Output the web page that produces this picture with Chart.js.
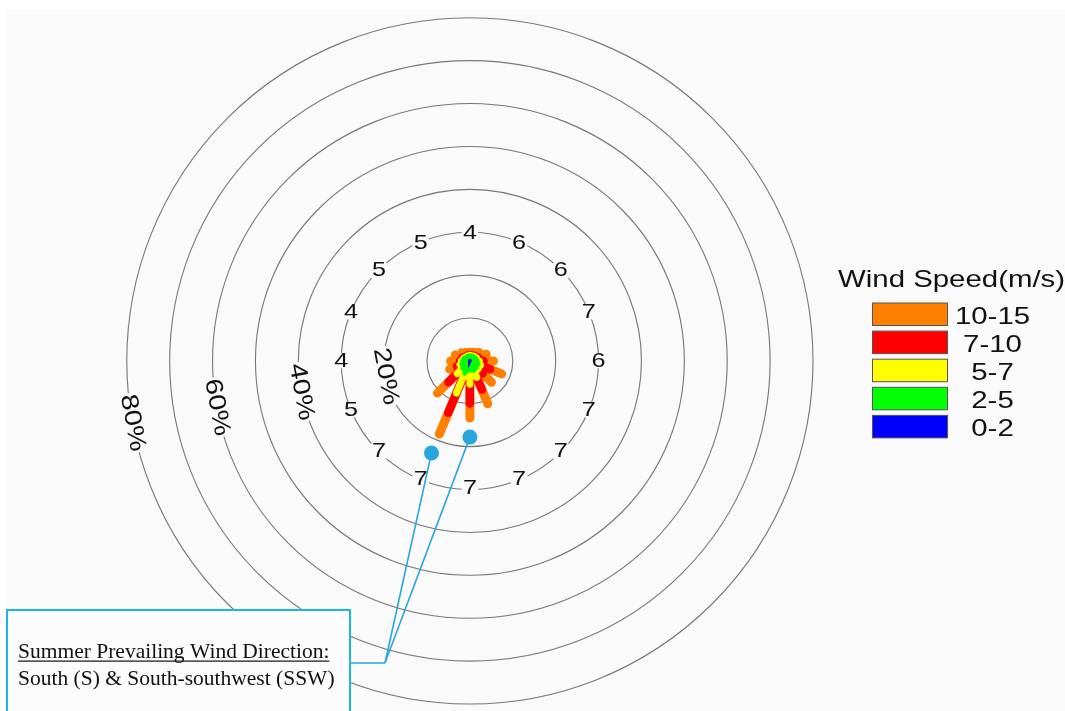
<!DOCTYPE html>
<html>
<head>
<meta charset="utf-8">
<title>Summer wind rose</title>
<script src="https://cdn.jsdelivr.net/npm/chart.js@4.4.1/dist/chart.umd.min.js"></script>
<style>
  html, body { margin: 0; padding: 0; background: #ffffff; overflow: hidden; }
  #wrap { position: absolute; left: 0; top: 0; width: 1065px; height: 711px; }
</style>
</head>
<body>
<div id="wrap"><canvas id="rose" width="1065" height="711"></canvas></div>
<script>
// ---- data -----------------------------------------------------------------
const directions = ['N', 'NNE', 'NE', 'ENE', 'E', 'ESE', 'SE', 'SSE',
                    'S', 'SSW', 'SW', 'WSW', 'W', 'WNW', 'NW', 'NNW'];
const speedBins = ['0-2', '2-5', '5-7', '7-10', '10-15'];

// frequency (%) of each wind speed class, per direction (N clockwise)
const freq0to2   = [0.1, 0.1, 0.1, 0.1, 0.1, 0.1, 0.1, 0.1, 0.1, 0.1, 0.1, 0.1, 0.1, 0.1, 0.1, 0.1];
const freq2to5   = [1.1, 1.1, 1.2, 1.4, 1.6, 1.9, 2.1, 2.3, 2.1, 3.0, 2.3, 1.9, 1.6, 1.4, 1.1, 1.1];
const freq5to7   = [0.1, 0.1, 0.2, 0.2, 0.5, 0.7, 0.5, 1.8, 3.3, 5.1, 1.8, 0.5, 0.3, 0.1, 0.1, 0.1];
const freq7to10  = [0.1, 0.1, 0.1, 0.4, 1.0, 2.4, 1.5, 3.1, 4.5, 5.0, 2.9, 0.8, 0.3, 0.3, 0.1, 0.1];
const freq10to15 = [0.6, 0.8, 1.3, 2.0, 2.3, 2.9, 2.9, 3.6, 3.4, 5.4, 3.6, 1.8, 2.2, 1.8, 1.3, 0.8];

// number printed on the 30 % ring for each direction
const ringValues = [4, 6, 6, 7, 6, 7, 7, 7, 7, 7, 7, 5, 4, 4, 5, 5];
const ringValueLevel = 30;

// frequency rings (%) and the ones that carry a label
const ringLevels = [10, 20, 30, 40, 50, 60, 70, 80];
const labelledLevels = [20, 40, 60, 80];
const ringLabels = ['20%', '40%', '60%', '80%'];

// prevailing directions, marked at these radii (%)
const prevailingDirs = ['S', 'SSW'];
const prevailingRadius = [17.9, 23.4];
const noteTitle = 'Summer Prevailing Wind Direction:';
const noteBody = 'South (S) & South-southwest (SSW)';

// ---- styling --------------------------------------------------------------
const binColors = ['#0000ff', '#00ff00', '#ffff00', '#ff0000', '#ff8000'];
const binWidths = [3, 5, 7, 8.5, 9];
const SANS = '"Liberation Sans", Arial, Helvetica, sans-serif';
const SERIF = '"Liberation Serif", "Times New Roman", serif';
const STRETCH = 1.2;
const CALLOUT = '#2aa6dd';

// ---- layout ---------------------------------------------------------------
const W = 1065, H = 711;
const CX = 469, CY = 361;     // pixel of the rose centre
const PX_PER_PCT = 4.35;      // pixels per 1 % of frequency
const LABEL_BEARING = 259.5;  // bearing (deg) of the % labels

const freqTable = [freq0to2, freq2to5, freq5to7, freq7to10, freq10to15];

function bearingOf(name) { return directions.indexOf(name) * 22.5; }
function polar(r, bearingDeg) {
  const a = bearingDeg * Math.PI / 180;
  return { x: r * Math.sin(a), y: r * Math.cos(a) };
}

// cumulative petal length of every class, per direction
const cumulative = freqTable.map((_, k) =>
  directions.map((d, i) => freqTable.slice(0, k + 1).reduce((s, arr) => s + arr[i], 0)));

function petalData(k) {
  const pts = [];
  directions.forEach((d, i) => {
    pts.push({ x: 0, y: 0 });
    pts.push(polar(cumulative[k][i], i * 22.5));
    pts.push({ x: null, y: null });
  });
  return pts;
}

// Chart.js paints dataset 0 last, so the calm class (index 0) ends up on top
const petalSets = speedBins.map((bin, k) => ({
  label: bin,
  data: petalData(k),
  showLine: true,
  spanGaps: false,
  borderColor: binColors[k],
  backgroundColor: binColors[k],
  borderWidth: binWidths[k],
  borderCapStyle: 'round',
  pointRadius: 0,
  pointHoverRadius: 0,
  tension: 0
}));

const markerSet = {
  label: 'prevailing',
  data: prevailingDirs.map((d, i) => polar(prevailingRadius[i], bearingOf(d))),
  showLine: false,
  pointRadius: 7.5,
  pointHoverRadius: 7.5,
  pointBorderWidth: 0,
  backgroundColor: CALLOUT,
  borderColor: CALLOUT
};

function drawText(ctx, text, x, y, o) {
  ctx.save();
  ctx.translate(x, y);
  if (o.rotate) ctx.rotate(o.rotate);
  ctx.scale(o.stretch || 1, 1);
  ctx.font = o.font;
  ctx.textAlign = o.align || 'left';
  ctx.textBaseline = o.baseline || 'alphabetic';
  if (o.bg) {
    const w = ctx.measureText(text).width;
    ctx.fillStyle = o.bg;
    ctx.fillRect(-w / 2 - 1, -o.bgH / 2, w + 2, o.bgH);
  }
  ctx.fillStyle = o.color || '#111111';
  ctx.fillText(text, 0, 0);
  ctx.restore();
}

const rosePlugin = {
  id: 'rose',
  beforeDraw(chart) {
    const ctx = chart.ctx;
    ctx.save();
    ctx.fillStyle = '#ffffff';
    ctx.fillRect(0, 0, W, H);
    ctx.fillStyle = '#fafafa';
    ctx.fillRect(6, 10, W - 6, H - 10);
    ctx.restore();
  },
  beforeDatasetsDraw(chart) {
    const ctx = chart.ctx;
    const xs = chart.scales.x, ys = chart.scales.y;
    const ox = xs.getPixelForValue(0), oy = ys.getPixelForValue(0);
    // frequency rings
    ctx.save();
    ctx.strokeStyle = '#777777';
    ctx.lineWidth = 1.1;
    ringLevels.forEach(r => {
      const rad = xs.getPixelForValue(r) - ox;
      ctx.beginPath();
      ctx.arc(ox, oy, rad, 0, Math.PI * 2);
      ctx.stroke();
    });
    ctx.restore();
    // speed numbers on the ring
    ringValues.forEach((v, i) => {
      const p = polar(ringValueLevel, i * 22.5);
      drawText(ctx, String(v), xs.getPixelForValue(p.x), ys.getPixelForValue(p.y), {
        font: '21px ' + SANS, stretch: STRETCH, align: 'center', baseline: 'middle',
        bg: '#fafafa', bgH: 15
      });
    });
    // % labels along the rings, written along the ring tangent
    const tangent = (LABEL_BEARING - 180) * Math.PI / 180;
    labelledLevels.forEach((r, i) => {
      const p = polar(r, LABEL_BEARING);
      drawText(ctx, ringLabels[i], xs.getPixelForValue(p.x), ys.getPixelForValue(p.y), {
        font: '24px ' + SANS, stretch: STRETCH, align: 'center', baseline: 'middle',
        rotate: tangent, bg: '#fafafa', bgH: 18
      });
    });
    // callout leaders to the prevailing-direction markers
    const meta = chart.getDatasetMeta(0);
    const vx = 385, vy = 663;
    ctx.save();
    ctx.strokeStyle = CALLOUT;
    ctx.lineWidth = 1.6;
    meta.data.forEach(pt => {
      ctx.beginPath();
      ctx.moveTo(vx, vy);
      ctx.lineTo(pt.x, pt.y);
      ctx.stroke();
    });
    ctx.beginPath();
    ctx.moveTo(350, vy);
    ctx.lineTo(vx, vy);
    ctx.stroke();
    ctx.restore();
  },
  afterDatasetsDraw(chart) {
    const ctx = chart.ctx;
    // note box
    ctx.save();
    ctx.fillStyle = '#fcfcfc';
    ctx.fillRect(7, 610, 343, 120);
    ctx.strokeStyle = '#1db4ec';
    ctx.lineWidth = 2;
    ctx.strokeRect(7, 610, 343, 120);
    ctx.font = '21.5px ' + SERIF;
    ctx.fillStyle = '#111111';
    ctx.textBaseline = 'alphabetic';
    ctx.fillText(noteTitle, 18, 658);
    const tw = ctx.measureText(noteTitle).width;
    ctx.fillRect(18, 660.5, tw, 1.2);
    ctx.fillText(noteBody, 18, 685);
    ctx.restore();

    // legend
    drawText(ctx, 'Wind Speed(m/s)', 838, 287, { font: '24.5px ' + SANS, stretch: STRETCH });
    const order = speedBins.map((b, k) => k).reverse();
    order.forEach((k, row) => {
      const top = 303 + row * 28.1;
      ctx.save();
      ctx.fillStyle = binColors[k];
      ctx.fillRect(872.5, top, 75, 22.5);
      ctx.strokeStyle = '#555555';
      ctx.lineWidth = 1;
      ctx.strokeRect(872.5, top, 75, 22.5);
      ctx.restore();
      drawText(ctx, speedBins[k], 992.5, top + 20.5, {
        font: '24.5px ' + SANS, stretch: STRETCH, align: 'center'
      });
    });
  }
};

new Chart(document.getElementById('rose'), {
  type: 'scatter',
  data: { datasets: [markerSet].concat(petalSets) },
  options: {
    responsive: false,
    animation: false,
    events: [],
    layout: { padding: 0 },
    scales: {
      x: { type: 'linear', display: false, min: -CX / PX_PER_PCT, max: (W - CX) / PX_PER_PCT },
      y: { type: 'linear', display: false, min: -(H - CY) / PX_PER_PCT, max: CY / PX_PER_PCT }
    },
    plugins: { legend: { display: false }, tooltip: { enabled: false } }
  },
  plugins: [rosePlugin]
});
</script>
</body>
</html>
